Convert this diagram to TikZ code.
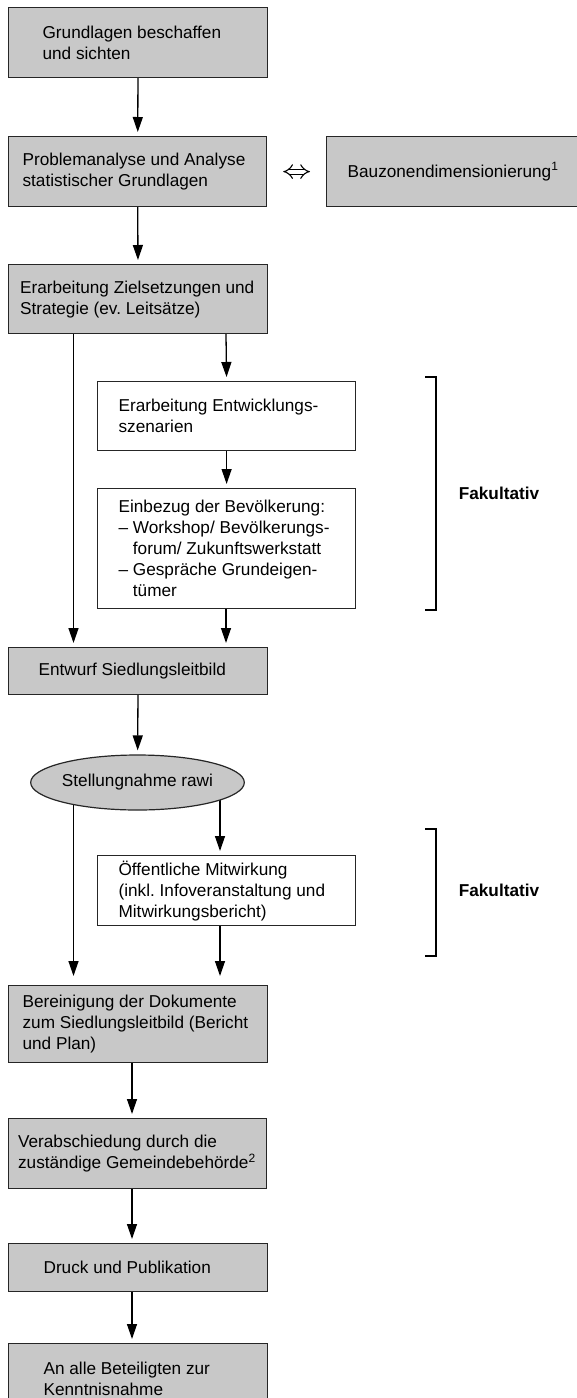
\documentclass[tikz,border=0pt]{standalone}
\usepackage{fontspec}
\setmainfont{Liberation Sans}
\usetikzlibrary{arrows.meta,shapes.geometric,backgrounds}
\definecolor{stagegrey}{RGB}{200,200,200}
\frenchspacing

\begin{document}
\begin{tikzpicture}[x=1pt, y=-1pt,
    stage/.style={draw=black!85, fill=stagegrey, line width=1.2pt, anchor=north west,
        align=flush left, inner ysep=0pt, font=\fontsize{17.2}{21}\selectfont},
    option/.style={stage, fill=white},
    flow/.style={-{Triangle[length=15pt,width=10pt]}, line width=1.3pt, shorten >=4pt},
    bracket/.style={line width=1.4pt}]
    \useasboundingbox (0,0) rectangle (577,1398);

    % Define the columns of the arrows
    \coordinate (leftCol) at (73.5,0);
    \coordinate (rightCol) at (226,0);
    \coordinate (lowRightCol) at (220,0);
    \coordinate (lowCol) at (132,0);

    % Define the positions of the brackets
    \coordinate (br1Top) at (436,377);
    \coordinate (br1Bot) at (436,610);
    \coordinate (br2Top) at (436,829);
    \coordinate (br2Bot) at (436,956);

    % Draw the steps
    \node[stage, minimum height=70pt, text width=191pt, inner xsep=34pt] (grundlagen) at (8,7) {Grundlagen beschaffen\\und sichten};
    \node[stage, minimum height=70pt, text width=230pt, inner xsep=14pt] (problem) at (8,136) {Problemanalyse und Analyse\\statistischer Grundlagen};
    \node[stage, minimum width=253pt, minimum height=70pt, align=center] (bauzonen) at (326,136) {Bauzonendimensionierung\textsuperscript{1}};
    \node[stage, minimum height=69pt, text width=236pt, inner xsep=11.5pt] (ziele) at (8,264) {Erarbeitung Zielsetzungen und\\Strategie (ev. Leitsätze)};
    \node[option, minimum height=69pt, text width=216pt, inner xsep=21pt] (szenarien) at (97,381) {Erarbeitung Entwicklungs-\\szenarien};
    \node[option, minimum height=120pt, text width=216pt, inner xsep=21pt] (bevoelkerung) at (97,488) {Einbezug der Bevölkerung:\\– Workshop/ Bevölkerungs-\\\hphantom{– }forum/ Zukunftswerkstatt\\– Gespräche Grundeigen-\\\hphantom{– }tümer};
    \node[stage, minimum height=47pt, text width=199pt, inner xsep=30pt] (entwurf) at (8,647) {Entwurf Siedlungsleitbild};
    \node[stage, ellipse, anchor=center, minimum width=200pt, minimum height=55pt, inner sep=0pt, align=center] (rawi) at (137.5,782.5) {Stellungnahme rawi};
    \node[option, minimum height=70pt, text width=216pt, inner xsep=21pt] (mitwirkung) at (97,855) {Öffentliche Mitwirkung\\(inkl. Infoveranstaltung und\\Mitwirkungsbericht)};
    \node[stage, minimum height=77pt, text width=231pt, inner xsep=14pt] (bereinigung) at (8,985) {Bereinigung der Dokumente\\zum Siedlungsleitbild (Bericht\\und Plan)};
    \node[stage, minimum height=70pt, text width=239pt, inner xsep=9.5pt] (verabschiedung) at (8,1118) {Verabschiedung durch die\\zuständige Gemeindebehörde\textsuperscript{2}};
    \node[stage, minimum height=48pt, text width=189pt, inner xsep=35pt] (druck) at (8,1243) {Druck und Publikation};
    \node[stage, minimum height=70pt, text width=189pt, inner xsep=35pt] (kenntnis) at (8,1343) {An alle Beteiligten zur\\Kenntnisnahme};

    % Draw the labels
    \node[font=\fontsize{17.2}{21}\selectfont\bfseries] (fak1) at (499,493) {Fakultativ};
    \node[font=\fontsize{17.2}{21}\selectfont\bfseries] (fak2) at (499,890) {Fakultativ};

    % Draw the arrows
    \draw[flow] (grundlagen) -- (problem);
    \draw[line width=1.1pt, double distance=4pt, {Implies}-{Implies}, shorten <=16pt, shorten >=16pt] (problem) -- (bauzonen);
    \draw[flow] (problem) -- (ziele);
    \draw[flow] (ziele.south -| leftCol) -- (entwurf.north -| leftCol);
    \draw[flow] (ziele.south -| rightCol) -- (szenarien.north);
    \draw[flow] (szenarien) -- (bevoelkerung);
    \draw[flow] (bevoelkerung.south -| rightCol) -- (entwurf.north -| rightCol);
    \draw[flow] (entwurf) -- (rawi);
    \begin{scope}[on background layer]
        \draw[flow, shorten >=9pt] (rawi.center -| leftCol) -- (bereinigung.north -| leftCol);
        \draw[flow] (rawi.center -| lowRightCol) -- (mitwirkung.north -| lowRightCol);
    \end{scope}
    \draw[flow, shorten >=9pt] (mitwirkung.south -| lowRightCol) -- (bereinigung.north -| lowRightCol);
    \draw[flow] (bereinigung.south -| lowCol) -- (verabschiedung.north -| lowCol);
    \draw[flow] (verabschiedung.south -| lowCol) -- (druck.north -| lowCol);
    \draw[flow] (druck.south -| lowCol) -- (kenntnis.north -| lowCol);

    % Draw the brackets
    \draw[bracket] ([xshift=-11pt]br1Top) -- (br1Top) -- (br1Bot) -- ([xshift=-11pt]br1Bot);
    \draw[bracket] ([xshift=-11pt]br2Top) -- (br2Top) -- (br2Bot) -- ([xshift=-11pt]br2Bot);
\end{tikzpicture}
\end{document}
